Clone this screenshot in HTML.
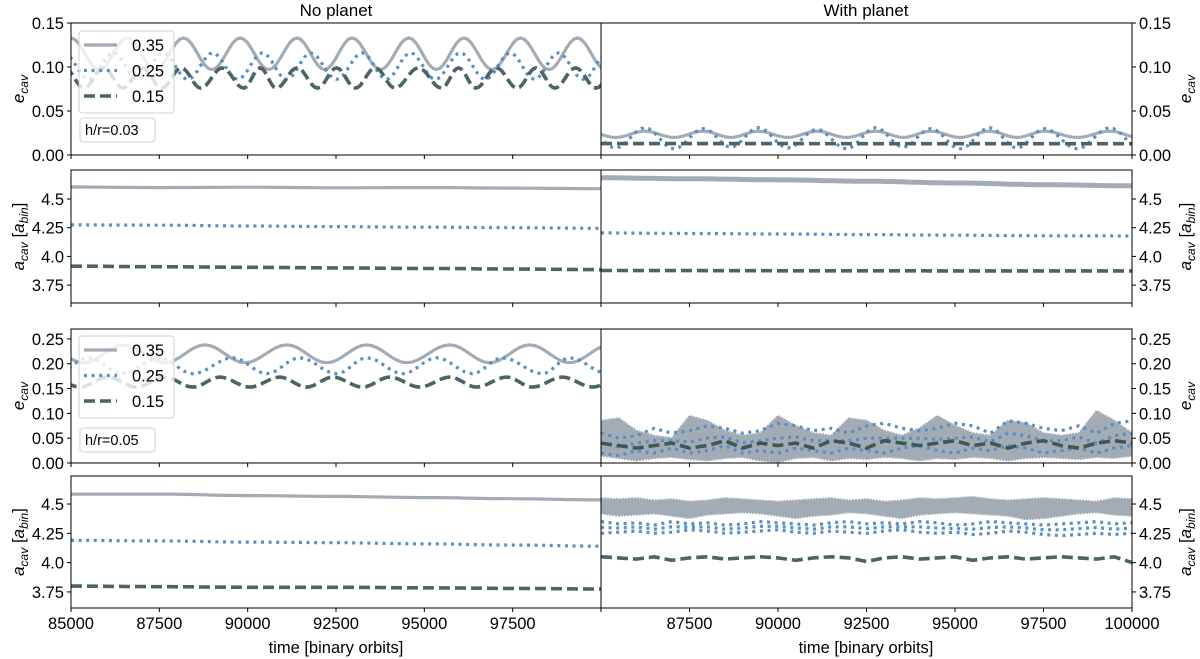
<!DOCTYPE html>
<html><head><meta charset="utf-8"><style>
html,body{margin:0;padding:0;background:#fff;}
svg{display:block;font-family:"Liberation Sans",sans-serif;}
</style></head><body>
<svg id="chart" width="1200" height="659" viewBox="0 0 1200 659" xmlns="http://www.w3.org/2000/svg">
<text x="336" y="16" font-size="17" text-anchor="middle">No planet</text>
<text x="866" y="16" font-size="17" text-anchor="middle">With planet</text>
<text x="336" y="653" font-size="16.5" text-anchor="middle">time [binary orbits]</text>
<text x="866" y="653" font-size="16.5" text-anchor="middle">time [binary orbits]</text>
<g id="layer"></g>
</svg>
<script>
// ---------- data ----------
const xTicks = [85000, 87500, 90000, 92500, 95000, 97500, 100000];
const eTicks1 = [0, 0.05, 0.10, 0.15];
const eTickLabels1 = ["0.00","0.05","0.10","0.15"];
const eTicks3 = [0, 0.05, 0.10, 0.15, 0.20, 0.25];
const eTickLabels3 = ["0.00","0.05","0.10","0.15","0.20","0.25"];
const aTicks = [3.75, 4.0, 4.25, 4.5];
const aTickLabels = ["3.75","4.0","4.25","4.5"];
const legendLabels = ["0.35","0.25","0.15"];

const p1L_grayT = [84998,85794,86590,87386,88183,88987,89791,90594,91397,92176,92955,93758,94561,95340,96119,96922,97724,98527,99330,100126];
const p1L_grayV = [0.133,0.097,0.133,0.097,0.133,0.097,0.133,0.097,0.133,0.097,0.133,0.097,0.133,0.097,0.133,0.097,0.133,0.097,0.133,0.097];
const p1L_blueT = [84800,85500,86200,86900,87600,88305,89011,89716,90421,91102,91784,92515,93246,93927,94609,95314,96019,96726,97433,98114,98796,99496,100196];
const p1L_blueV = [0.116,0.086,0.116,0.086,0.116,0.086,0.116,0.086,0.116,0.086,0.116,0.086,0.116,0.086,0.116,0.086,0.116,0.086,0.116,0.086,0.116,0.086,0.116];
const p1L_darkT = [84820,85370,85920,86470,87020,87570,88121,88672,89280,89888,90350,90813,91396,91980,92515,93051,93611,94171,94828,95485,95971,96458,97042,97626,98161,98697,99282,99867,100400];
const p1L_darkV = [0.099,0.076,0.099,0.076,0.099,0.076,0.099,0.076,0.099,0.076,0.099,0.076,0.099,0.076,0.099,0.076,0.099,0.076,0.099,0.076,0.099,0.076,0.099,0.076,0.099,0.076,0.099,0.076,0.099];

const p1R_T = [84584,85411,86238,87065,87892,88671,89450,90277,91104,91932,92760,93539,94318,95145,95972,96751,97530,98454,99378,100200];
const p1R_grayV = [0.027,0.020,0.027,0.020,0.027,0.020,0.027,0.020,0.027,0.020,0.027,0.020,0.027,0.020,0.027,0.020,0.027,0.020,0.027,0.020];
const p1R_blueV = [0.030,0.008,0.031,0.007,0.030,0.009,0.031,0.008,0.029,0.007,0.031,0.009,0.030,0.007,0.031,0.008,0.030,0.007,0.031,0.009];
const p1R_darkT = [85000,90000,95000,100000];
const p1R_darkV = [0.013,0.013,0.0128,0.0128];

const coarseT = [85000,87500,90000,92500,95000,97500,100000];
const p2L_grayV = [4.605,4.600,4.603,4.598,4.600,4.595,4.590];
const p2L_blueV = [4.275,4.272,4.265,4.260,4.255,4.250,4.245];
const p2L_darkV = [3.915,3.910,3.905,3.900,3.895,3.890,3.885];
const p2R_grayV = [4.685,4.677,4.667,4.655,4.640,4.625,4.615];
const p2R_blueV = [4.205,4.200,4.195,4.190,4.185,4.180,4.178];
const p2R_darkV = [3.877,3.876,3.875,3.875,3.874,3.874,3.874];

const p3L_grayT = [84190,85360,86490,87660,88790,89920,91110,92240,93370,94500,95720,96850,97980,99110,100250];
const p3L_grayV = [0.238,0.202,0.238,0.202,0.238,0.202,0.238,0.202,0.238,0.202,0.238,0.202,0.238,0.202,0.238];
const p3L_blueT = [84550,85500,86450,87500,88450,89580,90540,91470,92520,93370,94390,95350,96360,97210,98340,99110,100200];
const p3L_blueV = [0.180,0.212,0.180,0.212,0.180,0.212,0.180,0.212,0.180,0.212,0.180,0.212,0.180,0.212,0.180,0.212,0.180];
const p3L_darkT = [84450,85250,86050,86850,87650,88450,89210,90060,90910,91670,92410,93250,94020,94870,95720,96480,97330,98060,98910,99760,100560];
const p3L_darkV = [0.173,0.153,0.173,0.153,0.173,0.153,0.173,0.153,0.173,0.153,0.173,0.153,0.173,0.153,0.173,0.153,0.173,0.153,0.173,0.153,0.173];

const fineT = [85000,85500,86000,86500,87000,87500,88000,88500,89000,89500,90000,90500,91000,91500,92000,92500,93000,93500,94000,94500,95000,95500,96000,96500,97000,97500,98000,98500,99000,99500,100000];
const p3R_grayHi = [0.085,0.090,0.065,0.055,0.050,0.095,0.085,0.065,0.055,0.060,0.095,0.075,0.060,0.055,0.090,0.085,0.065,0.055,0.070,0.095,0.075,0.060,0.055,0.085,0.080,0.060,0.055,0.060,0.105,0.085,0.060];
const p3R_grayLo = [0.015,0.010,0.005,0.010,0.012,0.008,0.005,0.010,0.012,0.005,0.002,0.010,0.012,0.005,0.010,0.008,0.012,0.010,0.005,0.010,0.008,0.012,0.010,0.005,0.010,0.012,0.010,0.008,0.012,0.010,0.015];
const p3R_blueHi = [0.060,0.050,0.055,0.070,0.060,0.065,0.075,0.070,0.060,0.065,0.080,0.075,0.065,0.070,0.060,0.075,0.080,0.070,0.065,0.070,0.080,0.075,0.060,0.085,0.080,0.070,0.065,0.075,0.060,0.080,0.085];
const p3R_blueLo = [0.020,0.015,0.025,0.020,0.030,0.020,0.025,0.035,0.020,0.025,0.020,0.030,0.025,0.020,0.030,0.025,0.020,0.030,0.035,0.025,0.020,0.030,0.025,0.035,0.030,0.020,0.025,0.030,0.020,0.030,0.035];
const p3R_darkV = [0.040,0.035,0.030,0.035,0.040,0.030,0.035,0.045,0.030,0.040,0.035,0.040,0.030,0.045,0.040,0.030,0.045,0.040,0.035,0.040,0.045,0.035,0.040,0.030,0.040,0.045,0.035,0.030,0.040,0.045,0.040];

const p4L_grayV = [4.585,4.585,4.572,4.565,4.555,4.545,4.535];
const p4L_blueV = [4.190,4.185,4.175,4.170,4.160,4.150,4.140];
const p4L_darkV = [3.800,3.795,3.790,3.790,3.785,3.780,3.775];
const p4R_grayHi = [4.55,4.54,4.55,4.53,4.54,4.52,4.53,4.55,4.54,4.53,4.52,4.53,4.54,4.55,4.53,4.54,4.52,4.53,4.55,4.54,4.55,4.56,4.54,4.53,4.54,4.55,4.54,4.53,4.52,4.55,4.54];
const p4R_grayLo = [4.42,4.40,4.41,4.42,4.40,4.38,4.41,4.42,4.43,4.42,4.40,4.38,4.40,4.41,4.43,4.42,4.40,4.38,4.41,4.42,4.43,4.42,4.41,4.40,4.37,4.38,4.40,4.42,4.43,4.41,4.40];
const p4R_blueHi = [4.35,4.33,4.34,4.32,4.35,4.33,4.34,4.32,4.33,4.35,4.34,4.33,4.32,4.34,4.35,4.33,4.34,4.33,4.35,4.34,4.32,4.33,4.35,4.34,4.33,4.32,4.33,4.34,4.35,4.33,4.34];
const p4R_blueLo = [4.25,4.26,4.27,4.25,4.26,4.28,4.27,4.25,4.26,4.27,4.28,4.26,4.25,4.27,4.26,4.25,4.27,4.28,4.26,4.25,4.26,4.24,4.25,4.27,4.26,4.24,4.23,4.24,4.25,4.24,4.25];
const p4R_darkV = [4.05,4.04,4.03,4.05,4.02,4.04,4.05,4.03,4.04,4.05,4.04,4.02,4.04,4.05,4.04,4.01,4.04,4.05,4.03,4.04,4.05,4.02,4.04,4.05,4.03,4.04,4.05,4.04,4.03,4.05,4.00];

// ---------- rendering ----------
const NS = "http://www.w3.org/2000/svg";
const layer = document.getElementById("layer");
const GRAY = "#a3abb5", BLUE = "#5790c6", DARK = "#4a6564";
const XMIN = 85000, XMAX = 100000;
function mk(tag, attrs, parent) {
  const el = document.createElementNS(NS, tag);
  for (const k in attrs) el.setAttribute(k, attrs[k]);
  (parent || layer).appendChild(el);
  return el;
}
const rows = [
  {top:23, bot:155, ymin:0, ymax:0.15, ticks:eTicks1, labels:eTickLabels1, kind:"e"},
  {top:170, bot:303, ymin:3.594, ymax:4.753, ticks:aTicks, labels:aTickLabels, kind:"a"},
  {top:329, bot:463, ymin:0, ymax:0.27, ticks:eTicks3, labels:eTickLabels3, kind:"e"},
  {top:476, bot:608, ymin:3.613, ymax:4.739, ticks:aTicks, labels:aTickLabels, kind:"a"}
];
const cols = [{x0:71, x1:601, side:"left"}, {x0:601, x1:1132, side:"right"}];
function xs(col, t) { return col.x0 + (t - XMIN) / (XMAX - XMIN) * (col.x1 - col.x0); }
function ys(row, v) { return row.bot - (v - row.ymin) / (row.ymax - row.ymin) * (row.bot - row.top); }

const defs = mk("defs", {});
let clipN = 0;
function panelGroup(r, c) {
  const id = "clip" + (clipN++);
  const cp = mk("clipPath", {id: id}, defs);
  mk("rect", {x: c.x0, y: r.top, width: c.x1 - c.x0, height: r.bot - r.top}, cp);
  return mk("g", {"clip-path": "url(#" + id + ")"});
}
const styles = {
  gray: {stroke: GRAY, "stroke-width": 3.2, fill: "none"},
  blue: {stroke: BLUE, "stroke-width": 3.2, fill: "none", "stroke-dasharray": "3 4.6"},
  dark: {stroke: DARK, "stroke-width": 3.6, fill: "none", "stroke-dasharray": "11 5"}
};
function pathFor(r, c, T, V, smooth) {
  let d = "";
  for (let i = 0; i < T.length; i++) {
    if (i === 0) { d += "M" + xs(c, T[0]).toFixed(1) + "," + ys(r, V[0]).toFixed(1); continue; }
    if (smooth) {
      for (let s = 1; s <= 8; s++) {
        const f = s / 8, e = (1 - Math.cos(Math.PI * f)) / 2;
        const t = T[i-1] + (T[i] - T[i-1]) * f, v = V[i-1] + (V[i] - V[i-1]) * e;
        d += "L" + xs(c, t).toFixed(1) + "," + ys(r, v).toFixed(1);
      }
    } else d += "L" + xs(c, T[i]).toFixed(1) + "," + ys(r, V[i]).toFixed(1);
  }
  return d;
}
function line(g, r, c, T, V, style, smooth, name) {
  const attrs = Object.assign({d: pathFor(r, c, T, V, smooth)}, styles[style]);
  const p = mk("path", attrs, g);
  
  
  return p;
}
function band(g, r, c, T, lo, hi, color, name) {
  let d = "";
  for (let i = 0; i < T.length; i++) d += (i ? "L" : "M") + xs(c, T[i]).toFixed(1) + "," + ys(r, hi[i]).toFixed(1);
  for (let i = T.length - 1; i >= 0; i--) d += "L" + xs(c, T[i]).toFixed(1) + "," + ys(r, lo[i]).toFixed(1);
  const p = mk("path", {d: d + "Z", fill: color, stroke: color, "stroke-width": 2, "stroke-dasharray": "2 1"}, g);
  
  
}
function mid(a, b) { return a.map((v, i) => (v + b[i]) / 2); }

rows.forEach((r, ri) => {
  cols.forEach((c, ci) => {
    const g = panelGroup(r, c);
    const tag = "row" + (ri + 1) + "-" + c.side;
    if (ri === 0 && ci === 0) {
      line(g, r, c, p1L_grayT, p1L_grayV, "gray", true, "series-0.35-" + tag);
      line(g, r, c, p1L_blueT, p1L_blueV, "blue", true, "series-0.25-" + tag);
      line(g, r, c, p1L_darkT, p1L_darkV, "dark", true, "series-0.15-" + tag);
    } else if (ri === 0) {
      line(g, r, c, p1R_T, p1R_grayV, "gray", true, "series-0.35-" + tag);
      line(g, r, c, p1R_T, p1R_blueV, "blue", true, "series-0.25-" + tag);
      line(g, r, c, p1R_darkT, p1R_darkV, "dark", false, "series-0.15-" + tag);
    } else if (ri === 1) {
      const G = ci ? p2R_grayV : p2L_grayV, B = ci ? p2R_blueV : p2L_blueV, D = ci ? p2R_darkV : p2L_darkV;
      const gp = line(g, r, c, coarseT, G, "gray", true, "series-0.35-" + tag);
      if (ci) gp.setAttribute("stroke-width", 5);
      line(g, r, c, coarseT, B, "blue", true, "series-0.25-" + tag);
      line(g, r, c, coarseT, D, "dark", true, "series-0.15-" + tag);
    } else if (ri === 2 && ci === 0) {
      line(g, r, c, p3L_grayT, p3L_grayV, "gray", true, "series-0.35-" + tag);
      line(g, r, c, p3L_blueT, p3L_blueV, "blue", true, "series-0.25-" + tag);
      line(g, r, c, p3L_darkT, p3L_darkV, "dark", true, "series-0.15-" + tag);
    } else if (ri === 2) {
      band(g, r, c, fineT, p3R_grayLo, p3R_grayHi, GRAY, "series-0.35-" + tag);
      line(g, r, c, fineT, p3R_blueHi, "blue", false, "series-0.25-upper-" + tag);
      line(g, r, c, fineT, p3R_blueLo, "blue", false, "series-0.25-lower-" + tag);
      line(g, r, c, fineT, mid(p3R_blueHi, p3R_blueLo), "blue", false, "series-0.25-mid-" + tag);
      const dp = line(g, r, c, fineT, p3R_darkV, "dark", false, "series-0.15-" + tag);
      dp.setAttribute("stroke", "#3f5756");
    } else if (ci === 0) {
      line(g, r, c, coarseT, p4L_grayV, "gray", true, "series-0.35-" + tag);
      line(g, r, c, coarseT, p4L_blueV, "blue", true, "series-0.25-" + tag);
      line(g, r, c, coarseT, p4L_darkV, "dark", true, "series-0.15-" + tag);
    } else {
      band(g, r, c, fineT, p4R_grayLo, p4R_grayHi, GRAY, "series-0.35-" + tag);
      line(g, r, c, fineT, p4R_blueHi, "blue", false, "series-0.25-upper-" + tag);
      line(g, r, c, fineT, p4R_blueLo, "blue", false, "series-0.25-lower-" + tag);
      line(g, r, c, fineT, mid(p4R_blueHi, p4R_blueLo), "blue", false, "series-0.25-mid-" + tag);
      line(g, r, c, fineT, p4R_darkV, "dark", false, "series-0.15-" + tag);
    }
    const fr = mk("rect", {x: c.x0, y: r.top, width: c.x1 - c.x0, height: r.bot - r.top, fill: "none", stroke: "#000", "stroke-width": 1});
    
    
    xTicks.forEach(t => {
      const x = xs(c, t);
      if (x < c.x0 - 0.5 || x > c.x1 + 0.5) return;
      mk("line", {x1: x, x2: x, y1: r.bot, y2: r.bot + 4, stroke: "#000", "stroke-width": 1});
      if (ri === 3 && !(ci === 1 && t === 85000) && !(ci === 0 && t === 100000)) {
        const tx = mk("text", {x: x, y: r.bot + 21, "font-size": 16.5, "text-anchor": "middle"});
        tx.textContent = String(t);
        
        
      }
    });
    r.ticks.forEach((v, k) => {
      const y = ys(r, v);
      const xe = ci ? c.x1 : c.x0;
      mk("line", {x1: xe, x2: ci ? xe + 4 : xe - 4, y1: y, y2: y, stroke: "#000", "stroke-width": 1});
      const tx = mk("text", {x: ci ? xe + 7 : xe - 7, y: y + 6, "font-size": 16.5, "text-anchor": ci ? "start" : "end"});
      tx.textContent = r.labels[k];
      
      
    });
    const cy = (r.top + r.bot) / 2, lx = ci ? 1191 : 24;
    const yt = mk("text", {x: lx, y: cy, "font-size": 17, "text-anchor": "middle", transform: "rotate(-90 " + lx + " " + cy + ")"});
    
    
    if (r.kind === "e") {
      yt.innerHTML = '<tspan font-style="italic">e</tspan><tspan font-size="12" font-style="italic" dy="4">cav</tspan>';
    } else {
      yt.innerHTML = '<tspan font-style="italic">a</tspan><tspan font-size="12" font-style="italic" dy="4">cav</tspan><tspan dy="-4"> [</tspan><tspan font-style="italic">a</tspan><tspan font-size="12" font-style="italic" dy="4">bin</tspan><tspan dy="-4">]</tspan>';
    }
  });
});

[{top: 31, hr: "h/r=0.03", hrTop: 118}, {top: 336, hr: "h/r=0.05", hrTop: 428}].forEach((L, li) => {
  const lg = mk("g", {});
  
  
  mk("rect", {x: 79, y: L.top, width: 95, height: 82, rx: 3, fill: "#fff", "fill-opacity": 0.8, stroke: "#d0d0d0"}, lg);
  ["gray", "blue", "dark"].forEach((s, k) => {
    const y = L.top + 14 + k * 25.5;
    const sw = mk("line", Object.assign({x1: 84, x2: 117, y1: y, y2: y}, styles[s]), lg);
    
    
    const tx = mk("text", {x: 132, y: y + 6, "font-size": 16.5}, lg);
    tx.textContent = legendLabels[k];
    
    
  });
  const hb = mk("rect", {x: 80, y: L.hrTop, width: 75, height: 24, rx: 3, fill: "#fff", stroke: "#d0d0d0"});
  
  
  const ht = mk("text", {x: 85, y: L.hrTop + 17, "font-size": 14.5});
  ht.textContent = L.hr;
  
  
});
</script>
</body></html>
